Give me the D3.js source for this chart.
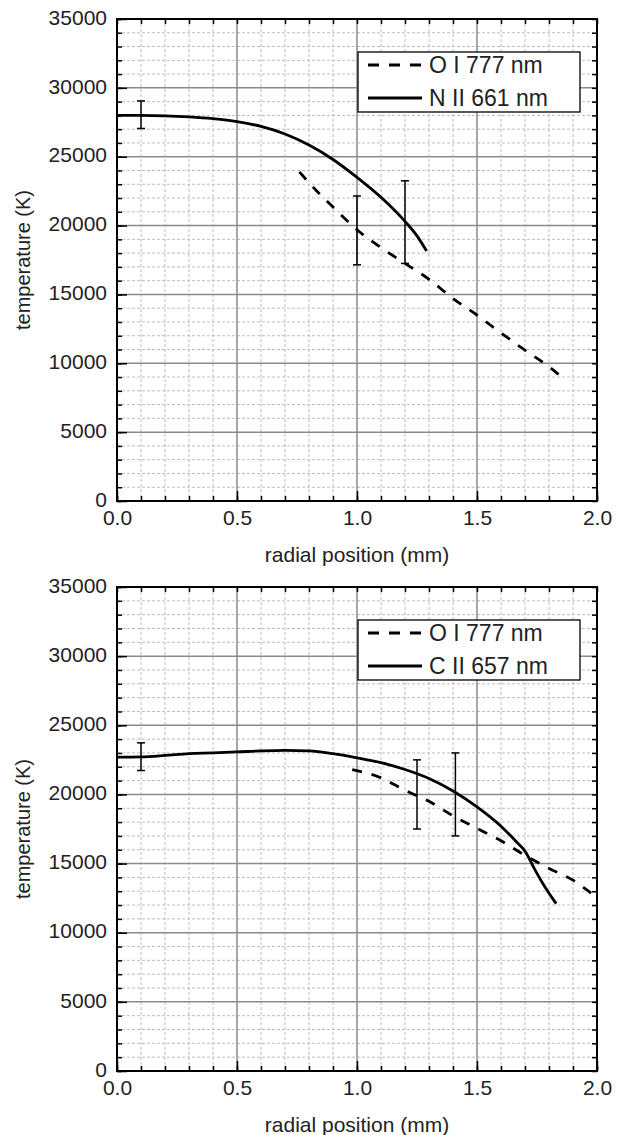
<!DOCTYPE html>
<html>
<head>
<meta charset="utf-8">
<script src="https://cdn.jsdelivr.net/npm/d3@7"></script>
<style>
  body { margin: 0; background: #fff; }
  svg { display: block; }
  text { font-family: "Liberation Sans", Arial, sans-serif; fill: #222; }
</style>
</head>
<body>
<svg id="chart" width="619" height="1135"></svg>
<script>
// axis ticks
var xTickValues = [0, 0.5, 1.0, 1.5, 2.0];
var yTickValues = [0, 5000, 10000, 15000, 20000, 25000, 30000, 35000];

// top panel: O I 777 nm (dashed) and N II 661 nm (solid)
var topOIx = [0.76, 0.83, 0.9, 0.95, 1.0, 1.1, 1.2, 1.3, 1.4, 1.5, 1.6, 1.7, 1.8, 1.85];
var topOIy = [23900, 22550, 21350, 20500, 19700, 18400, 17250, 16100, 14700, 13500, 12200, 10950, 9750, 9050];
var topIIx = [0, 0.1, 0.2, 0.3, 0.4, 0.5, 0.6, 0.7, 0.8, 0.9, 1.0, 1.1, 1.2, 1.25, 1.29];
var topIIy = [28000, 28000, 27970, 27890, 27760, 27550, 27200, 26650, 25850, 24800, 23500, 22050, 20300, 19250, 18150];
var topErrX = [0.1, 1.0, 1.2];
var topErrY = [28050, 19650, 20250];
var topErrD = [1000, 2500, 3000];

// bottom panel: O I 777 nm (dashed) and C II 657 nm (solid)
var botOIx = [0.98, 1.1, 1.2, 1.3, 1.4, 1.5, 1.6, 1.7, 1.8, 1.9, 1.98];
var botOIy = [21800, 21200, 20300, 19500, 18450, 17550, 16650, 15600, 14650, 13800, 12800];
var botIIx = [0, 0.1, 0.2, 0.3, 0.4, 0.5, 0.6, 0.7, 0.8, 0.9, 1.0, 1.1, 1.2, 1.3, 1.4, 1.5, 1.6, 1.66, 1.7, 1.74, 1.78, 1.83];
var botIIy = [22700, 22720, 22820, 22950, 23000, 23070, 23150, 23190, 23150, 22950, 22650, 22300, 21800, 21150, 20250, 19100, 17700, 16650, 15900, 14600, 13400, 12100];
var botErrX = [0.1, 1.25, 1.41];
var botErrY = [22730, 20000, 20000];
var botErrD = [1000, 2500, 3000];

var svg = d3.select("#chart");

function zip(xs, ys) {
    return xs.map(function (x, i) { return { x: x, y: ys[i] }; });
}

function drawPanel(cfg) {
    var left = 117, right = 597;
    var x = d3.scaleLinear().domain([0, 2]).range([left, right]);
    var y = d3.scaleLinear().domain([0, 35000]).range([cfg.bottom, cfg.top]);
    var g = svg.append("g");

    // minor grid (dotted)
    g.append("g").selectAll("line")
        .data(x.ticks(20).filter(d => xTickValues.indexOf(+d.toFixed(1)) < 0))
        .enter().append("line")
        .attr("x1", d => x(d)).attr("x2", d => x(d))
        .attr("y1", cfg.top).attr("y2", cfg.bottom)
        .attr("stroke", "#bdbdbd").attr("stroke-width", 1).attr("stroke-dasharray", "3,2");
    g.append("g").selectAll("line")
        .data(y.ticks(35).filter(d => d % 5000 !== 0))
        .enter().append("line")
        .attr("x1", left).attr("x2", right)
        .attr("y1", d => y(d)).attr("y2", d => y(d))
        .attr("stroke", "#bdbdbd").attr("stroke-width", 1).attr("stroke-dasharray", "3,2");

    // major grid (solid)
    g.append("g").selectAll("line")
        .data(xTickValues.slice(1, -1))
        .enter().append("line")
        .attr("x1", d => x(d)).attr("x2", d => x(d))
        .attr("y1", cfg.top).attr("y2", cfg.bottom)
        .attr("stroke", "#8a8a8a").attr("stroke-width", 1.5);
    g.append("g").selectAll("line")
        .data(yTickValues.slice(1, -1))
        .enter().append("line")
        .attr("x1", left).attr("x2", right)
        .attr("y1", d => y(d)).attr("y2", d => y(d))
        .attr("stroke", "#8a8a8a").attr("stroke-width", 1.5);

    // minor ticks on all four sides
    function minor(axis, tr) {
        var a = g.append("g").attr("transform", tr).call(axis.tickSizeInner(-5).tickSizeOuter(0).tickFormat(""));
        a.select(".domain").remove();
        a.selectAll("line").attr("stroke", "#000").attr("stroke-width", 1.5);
    }
    minor(d3.axisLeft(y).ticks(35), `translate(${left},0)`);
    minor(d3.axisRight(y).ticks(35), `translate(${right},0)`);
    minor(d3.axisBottom(x).ticks(20), `translate(0,${cfg.bottom})`);
    minor(d3.axisTop(x).ticks(20), `translate(0,${cfg.top})`);

    // major ticks + labels
    var ya = g.append("g").attr("transform", `translate(${left},0)`)
        .call(d3.axisLeft(y).tickValues(yTickValues).tickFormat(d3.format("d"))
            .tickSizeInner(-10).tickSizeOuter(0).tickPadding(10));
    var xa = g.append("g").attr("transform", `translate(0,${cfg.bottom})`)
        .call(d3.axisBottom(x).tickValues(xTickValues).tickFormat(d3.format(".1f"))
            .tickSizeInner(-10).tickSizeOuter(0).tickPadding(9));
    [ya, xa].forEach(function (a) {
        a.select(".domain").remove();
        a.selectAll("line").attr("stroke", "#000").attr("stroke-width", 1.5);
        a.selectAll("text").style("font-size", "21px").attr("fill", "#222")
            .style("font-family", '"Liberation Sans", Arial, sans-serif');
    });
    ya.selectAll("text").attr("dy", "0.25em");

    // frame
    g.append("rect")
        .attr("x", left).attr("y", cfg.top)
        .attr("width", right - left).attr("height", cfg.bottom - cfg.top)
        .attr("fill", "none").attr("stroke", "#000").attr("stroke-width", 2);

    // lines
    var line = d3.line().x(d => x(d.x)).y(d => y(d.y)).curve(d3.curveMonotoneX);
    g.append("path").datum(zip(cfg.dashX, cfg.dashY))
        .attr("d", line).attr("fill", "none").attr("stroke", "#000")
        .attr("stroke-width", 2.8).attr("stroke-dasharray", "10,10");
    g.append("path").datum(zip(cfg.solidX, cfg.solidY))
        .attr("d", line).attr("fill", "none").attr("stroke", "#000")
        .attr("stroke-width", 2.8);

    // error bars
    var errs = cfg.errX.map((v, i) => ({ x: v, y: cfg.errY[i], d: cfg.errD[i] }));
    var eb = g.append("g").selectAll("g").data(errs).enter().append("g")
        .attr("stroke", "#000").attr("stroke-width", 1.5);
    eb.append("line")
        .attr("x1", d => x(d.x)).attr("x2", d => x(d.x))
        .attr("y1", d => y(d.y - d.d)).attr("y2", d => y(d.y + d.d));
    eb.append("line")
        .attr("x1", d => x(d.x) - 4).attr("x2", d => x(d.x) + 4)
        .attr("y1", d => y(d.y + d.d)).attr("y2", d => y(d.y + d.d));
    eb.append("line")
        .attr("x1", d => x(d.x) - 4).attr("x2", d => x(d.x) + 4)
        .attr("y1", d => y(d.y - d.d)).attr("y2", d => y(d.y - d.d));

    // legend
    var lg = g.append("g").attr("transform", `translate(358,${cfg.top + 33})`);
    lg.append("rect").attr("width", 222).attr("height", 60)
        .attr("fill", "#fff").attr("stroke", "#000").attr("stroke-width", 1.3);
    var items = [{ label: "O I 777 nm", dash: "11,10" }, { label: cfg.solidLabel, dash: null }];
    items.forEach(function (it, i) {
        var yy = 13 + i * 33;
        lg.append("line").attr("x1", 10).attr("x2", 64).attr("y1", yy).attr("y2", yy)
            .attr("stroke", "#000").attr("stroke-width", 2.8)
            .attr("stroke-dasharray", it.dash);
        lg.append("text").attr("x", 71).attr("y", yy + 8)
            .style("font-size", "23px").text(it.label);
    });

    // axis titles
    g.append("text").attr("x", (left + right) / 2).attr("y", cfg.bottom + 61)
        .attr("text-anchor", "middle").style("font-size", "21px").text("radial position (mm)");
    g.append("text")
        .attr("transform", `translate(30,${(cfg.top + cfg.bottom) / 2}) rotate(-90)`)
        .attr("text-anchor", "middle").style("font-size", "20px").text("temperature (K)");
}

drawPanel({
    top: 19, bottom: 501,
    dashX: topOIx, dashY: topOIy,
    solidX: topIIx, solidY: topIIy, solidLabel: "N II 661 nm",
    errX: topErrX, errY: topErrY, errD: topErrD
});
drawPanel({
    top: 587, bottom: 1071,
    dashX: botOIx, dashY: botOIy,
    solidX: botIIx, solidY: botIIy, solidLabel: "C II 657 nm",
    errX: botErrX, errY: botErrY, errD: botErrD
});
</script>
</body>
</html>
